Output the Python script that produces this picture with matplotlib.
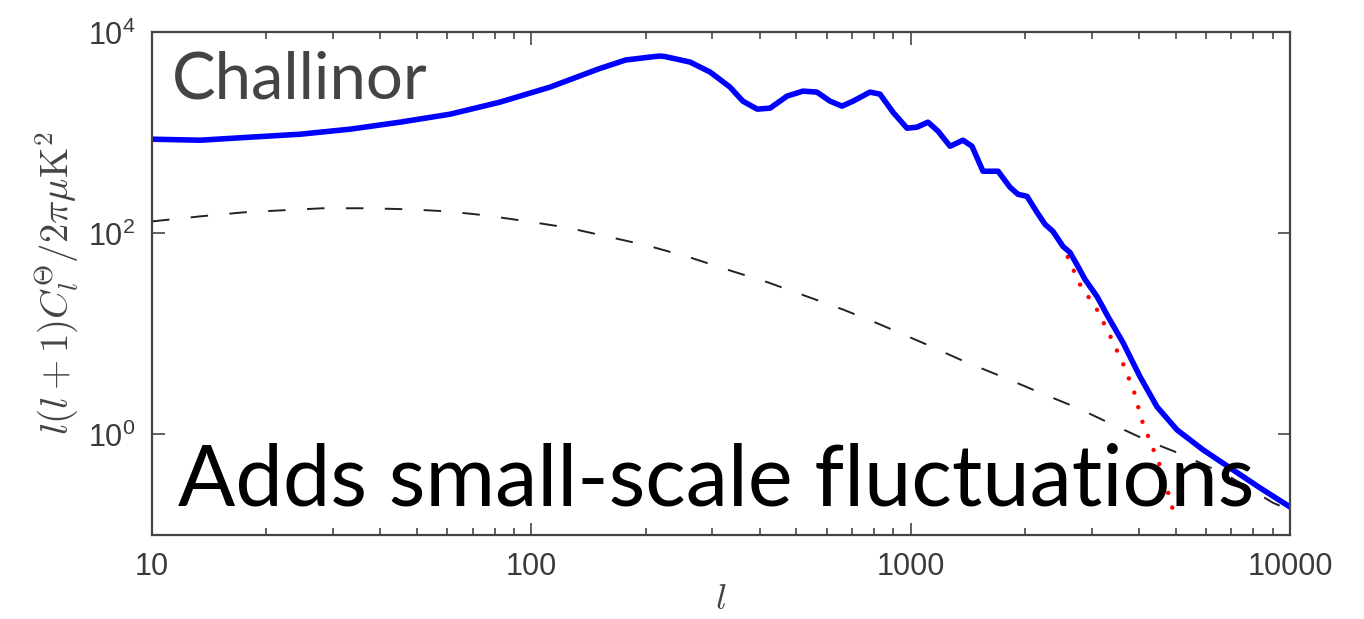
import matplotlib
matplotlib.use("Agg")
import matplotlib.pyplot as plt
import numpy as np

# total spectrum (blue)
l_total = [10, 13.4, 18.1, 24.6, 33.3, 45.1, 61.1, 82.7, 112, 150, 177, 205.5,
           218, 225, 262, 296, 334, 361, 394, 426, 472, 520, 566, 613, 659, 705,
           781, 830, 898, 978, 1039, 1111, 1181, 1270, 1374, 1451, 1551, 1700,
           1828, 1919, 2026, 2153, 2261, 2372, 2521, 2630, 2761, 2882, 3099, 3313,
           3629, 4023, 4461, 5036, 5898, 7075, 8337, 10000]
cl_total = [860, 840, 900, 964, 1082, 1270, 1525, 2009, 2833, 4280, 5261, 5636,
            5768, 5700, 5026, 3997, 2833, 2055, 1711, 1750, 2304, 2584, 2526, 2055,
            1832, 2055, 2526, 2413, 1597, 1106, 1132, 1270, 1033, 732, 840, 732,
            413, 413, 286, 243.5, 232.6, 161.2, 122.4, 104.2, 73.9, 64.4, 46.7,
            34.7, 23.5, 14.8, 8.17, 3.75, 1.88, 1.11, 0.703, 0.444, 0.294, 0.190]

# primary spectrum (red dotted): same as the total up to l~2500, then drops
l_primary = l_total[:45] + [2795, 3099, 3354, 3629, 3880, 4072, 4356, 4515, 4711,
                            4887, 5036]
cl_primary = cl_total[:45] + [30.9, 17.4, 9.60, 5.05, 2.66, 1.37, 0.719, 0.521,
                              0.315, 0.190, 0.138]

# secondary contribution (black dashed)
l_second = [10, 13.4, 17.4, 22.1, 28.2, 36.9, 47.0, 59.9, 76.4, 97.5, 124, 158, 202,
            262, 334, 421, 533, 664, 830, 1104, 1390, 1741, 2193, 2745, 3459, 4276,
            5224, 6950, 9020, 10000]
cl_second = [131, 147, 161, 169, 177, 177, 173, 165, 150, 131, 114, 92.9, 75.5,
             57.4, 42.6, 32.4, 23.5, 17.4, 12.4, 7.80, 5.28, 3.75, 2.60, 1.84, 1.22,
             0.843, 0.626, 0.378, 0.209, 0.177]

x_ticks = [10, 100, 1000, 10000]
x_ticklabels = ["10", "100", "1000", "10000"]
y_ticks = [1, 100, 1e4]
y_ticklabels = ["$10^{0}$", "$10^{2}$", "$10^{4}$"]

plt.rcParams["mathtext.fontset"] = "custom"
plt.rcParams["mathtext.rm"] = "Liberation Sans"
plt.rcParams["mathtext.it"] = "Liberation Sans:italic"
plt.rcParams["mathtext.bf"] = "Liberation Sans:bold"

fig = plt.figure(figsize=(13.64, 6.19), dpi=100)
ax = fig.add_axes([152 / 1364, 1 - 535 / 619, 1138 / 1364, 503 / 619])

ax.plot(l_second, cl_second, color="#222222", lw=1.4, dashes=(9, 11))
ax.plot(l_primary, cl_primary, color="red", lw=3.2, dashes=(0.01, 3.4),
        dash_capstyle="round", solid_joinstyle="round")
ax.plot(l_total, cl_total, color="blue", lw=4, solid_joinstyle="round",
        solid_capstyle="round")

ax.set_xscale("log")
ax.set_yscale("log")
ax.set_xlim(10, 10000)
ax.set_ylim(0.1, 1e4)

ax.set_xticks(x_ticks)
ax.set_xticklabels(x_ticklabels, fontsize=22, color="#3a3a3a",
                   family="Liberation Sans")
ax.set_yticks(y_ticks)
ax.set_yticklabels(y_ticklabels, fontsize=22, color="#3a3a3a")
ax.yaxis.set_minor_locator(matplotlib.ticker.NullLocator())
ax.tick_params(which="both", direction="in", top=True, right=True,
               color="#555555", width=1.3)
ax.tick_params(which="major", length=9, pad=12)
ax.tick_params(which="minor", length=5)
for s in ax.spines.values():
    s.set_linewidth(1.6)
    s.set_color("#444444")

ax.set_xlabel("$l$", fontsize=26, color="#444444", math_fontfamily="cm",
              labelpad=0)
ax.set_ylabel(r"$l(l+1)C_l^{\boldsymbol{\Theta}}/2\pi\mu\mathrm{K}^2$",
              fontsize=28, color="#444444", math_fontfamily="cm", labelpad=6)

ax.text(0.0176, 0.867, "Challinor", transform=ax.transAxes, fontsize=47,
        color="#444444", family="Lato", va="baseline")
ax.text(0.023, 0.0596, "Adds small-scale fluctuations", transform=ax.transAxes,
        fontsize=61, color="black", family="Lato", va="baseline")

fig.savefig("out.png", dpi=100)
